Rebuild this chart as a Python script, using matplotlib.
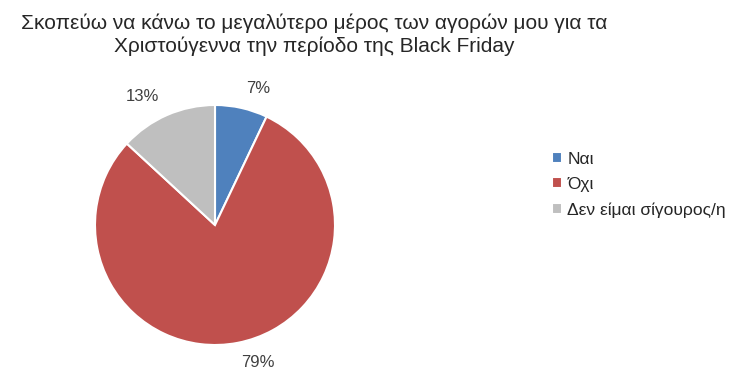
import matplotlib.pyplot as plt

plt.rcParams['font.family'] = ['Liberation Sans', 'DejaVu Sans']

title = "Σκοπεύω να κάνω το μεγαλύτερο μέρος των αγορών μου για τα\nΧριστούγεννα την περίοδο της Black Friday"
categories = ["Ναι", "Όχι", "Δεν είμαι σίγουρος/η"]
values = [7, 79, 13]
colors = ["#4F81BD", "#C0504D", "#BFBFBF"]

W, H = 734, 375
fig = plt.figure(figsize=(W / 100, H / 100), dpi=100)

# pie centre ~(215, 225) px, radius ~120 px
cx, cy, r = 215, 225, 120
ax = fig.add_axes([(cx - r) / W, (H - cy - r) / H, 2 * r / W, 2 * r / H])
wedges, texts = ax.pie(values, colors=colors, startangle=90, counterclock=False,
                       labels=[f"{v}%" for v in values], labeldistance=1.17,
                       wedgeprops=dict(edgecolor="white", linewidth=1.5),
                       textprops=dict(fontsize=12, color="#404040"))
ax.set_xlim(-1, 1)
ax.set_ylim(-1, 1)
ax.set_aspect("equal")

fig.text(314 / W, 1 - 35 / H, title, ha="center", va="center", fontsize=15,
         color="#262626", linespacing=1.2)

fig.legend(wedges, categories, loc="upper left", bbox_to_anchor=(536 / W, 1 - 136 / H),
           frameon=False, fontsize=12.5, handlelength=0.6, handleheight=0.6,
           handletextpad=0.3, labelspacing=0.6, labelcolor="#262626")

fig.savefig("out.png", dpi=100)
